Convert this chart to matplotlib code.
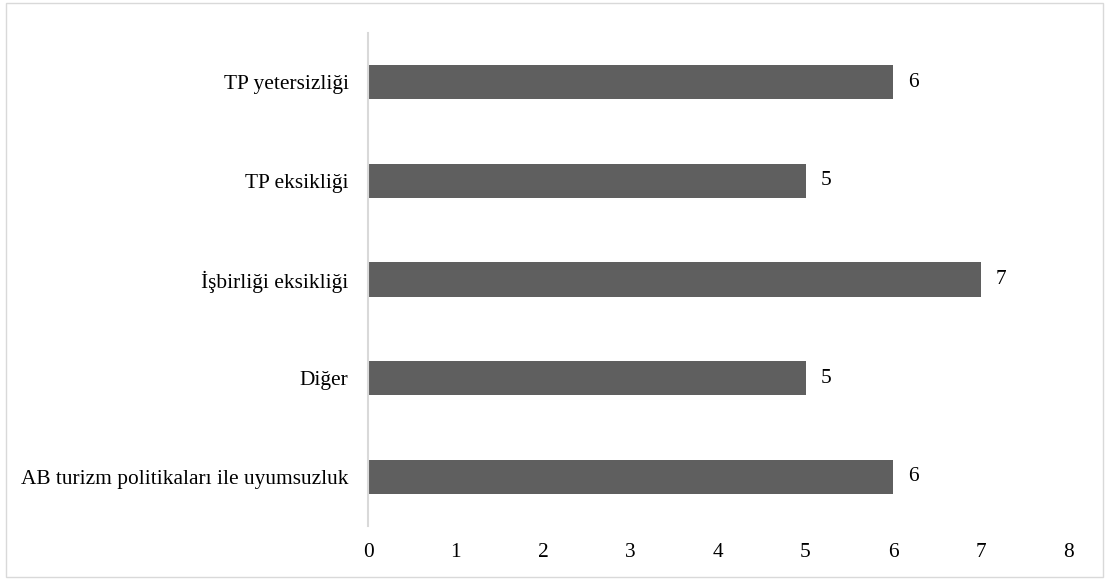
import matplotlib.pyplot as plt
from matplotlib.patches import Rectangle

plt.rcParams['font.family'] = ['Liberation Serif', 'DejaVu Serif']

categories = ['AB turizm politikaları ile uyumsuzluk', 'Diğer', 'İşbirliği eksikliği',
              'TP eksikliği', 'TP yetersizliği']
values = [6, 5, 7, 5, 6]
xticks = [0, 1, 2, 3, 4, 5, 6, 7, 8]

fig = plt.figure(figsize=(11.07, 5.79), dpi=100)
ax = fig.add_axes([368 / 1107, 1 - 526 / 579, 700 / 1107, 493 / 579])

ax.barh(range(len(categories)), values, height=0.345, color='#5f5f5f')
for i, v in enumerate(values):
    ax.text(v + 0.235, i, str(v), va='center', ha='center', fontsize=15.4)

ax.set_xlim(0, 8)
ax.set_ylim(-0.5, len(categories) - 0.5)
ax.set_yticks(range(len(categories)))
ax.set_yticklabels(categories, fontsize=15.4)
ax.set_xticks(xticks)
ax.set_xticklabels([str(t) for t in xticks], fontsize=15.4)
ax.tick_params(length=0)
ax.tick_params(axis='x', pad=12)
ax.tick_params(axis='y', pad=14)
for s in ['top', 'right', 'bottom']:
    ax.spines[s].set_visible(False)
ax.spines['left'].set_color('#d9d9d9')
ax.spines['left'].set_linewidth(1.5)

fig.patches.append(Rectangle((6 / 1107, 1 - 577 / 579), 1097 / 1107, 574 / 579,
                             transform=fig.transFigure, fill=False,
                             edgecolor='#d9d9d9', linewidth=1))

fig.savefig('out.png', dpi=100)
